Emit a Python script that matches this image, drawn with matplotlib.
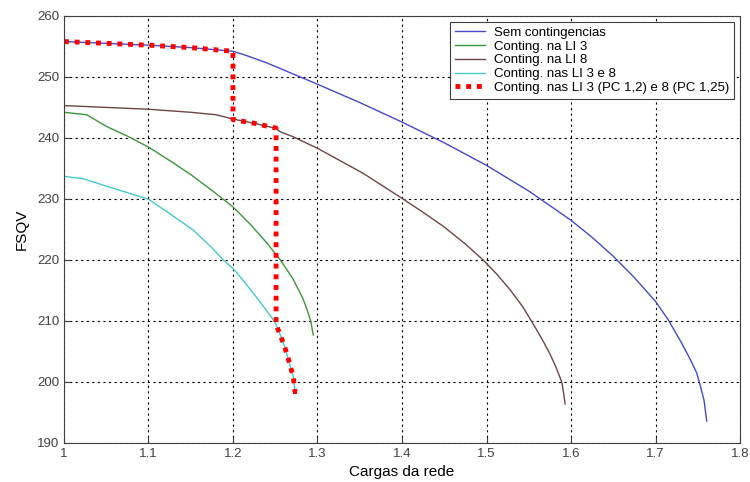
import matplotlib
matplotlib.use("Agg")
import matplotlib.pyplot as plt

plt.rcParams['font.family'] = ['Liberation Sans', 'DejaVu Sans']

# Sem contingencias
x_sem = [1.0, 1.05, 1.1, 1.15, 1.2, 1.214, 1.24, 1.2675, 1.3, 1.35, 1.4, 1.45, 1.5, 1.55, 1.6,
         1.625, 1.65, 1.675, 1.7, 1.715, 1.73, 1.74, 1.7487, 1.7518, 1.7574, 1.7606]
y_sem = [255.8, 255.5, 255.2, 254.8, 254.2, 253.6, 252.3, 250.7, 248.8, 245.8, 242.6, 239.2, 235.5, 231.3, 226.5,
         223.7, 220.6, 217.1, 213.2, 210.2, 206.6, 204.0, 201.5, 200.0, 197.0, 193.6]

# Conting. na LI 3
x_li3 = [1.0, 1.0, 1.027, 1.05, 1.075, 1.1, 1.125, 1.15, 1.175, 1.2, 1.22, 1.24, 1.256, 1.271, 1.283, 1.2875,
         1.292, 1.295]
y_li3 = [245.4, 244.2, 243.8, 241.9, 240.3, 238.5, 236.3, 234.0, 231.4, 228.7, 225.9, 222.8, 220.0, 216.9, 213.6,
         211.9, 210.0, 207.7]

# Conting. na LI 8
x_li8 = [1.0, 1.05, 1.1, 1.15, 1.18, 1.2, 1.225, 1.25, 1.256, 1.271, 1.3, 1.354, 1.4, 1.425, 1.449, 1.475,
         1.496, 1.512, 1.528, 1.543, 1.557, 1.567, 1.575, 1.582, 1.589, 1.591, 1.593]
y_li8 = [245.3, 245.0, 244.7, 244.2, 243.8, 243.1, 242.4, 241.6, 241.0, 240.2, 238.3, 234.2, 230.1, 227.8, 225.5, 222.6,
         220.0, 217.7, 215.1, 212.3, 209.1, 206.7, 204.6, 202.5, 200.0, 198.4, 196.4]

# Conting. nas LI 3 e 8
x_li38 = [1.0, 1.0, 1.023, 1.05, 1.1, 1.125, 1.153, 1.175, 1.1885, 1.2, 1.21, 1.23, 1.2477, 1.251, 1.2568,
          1.2615, 1.266, 1.2714, 1.2734]
y_li38 = [235.5, 233.7, 233.3, 232.1, 229.95, 227.6, 224.9, 222.0, 220.0, 218.6, 217.0, 213.5, 210.2, 209.4, 207.4,
          205.6, 203.5, 200.8, 198.4]

# Conting. nas LI 3 (PC 1,2) e 8 (PC 1,25)
x_pc = [1.0, 1.05, 1.1, 1.15, 1.2, 1.2, 1.225, 1.251, 1.251, 1.2568, 1.2615, 1.266, 1.2714, 1.2734]
y_pc = [255.8, 255.5, 255.2, 254.8, 254.2, 243.0, 242.4, 241.6, 209.4, 207.4, 205.6, 203.5, 200.8, 198.4]

labels = ['Sem contingencias', 'Conting. na LI 3', 'Conting. na LI 8',
          'Conting. nas LI 3 e 8', 'Conting. nas LI 3 (PC 1,2) e 8 (PC 1,25)']

fig = plt.figure(figsize=(7.5, 4.82), dpi=100)
ax = fig.add_axes([0.0853, 0.081, 0.9014, 0.886])

ax.plot(x_sem, y_sem, color='#4848c8', lw=1.0, label=labels[0])
ax.plot(x_li3, y_li3, color='#3c963c', lw=1.0, label=labels[1])
ax.plot(x_li8, y_li8, color='#6e4646', lw=1.0, label=labels[2])
ax.plot(x_li38, y_li38, color='#48c8c8', lw=1.0, label=labels[3])
ax.plot(x_pc, y_pc, color='#ff0000', lw=3.5, linestyle=(0, (1, 1.2)), label=labels[4])
ax.plot(x_pc[-1:], y_pc[-1:], 's', color='#ff0000', ms=3.5, mew=0)

ax.set_xlim(1, 1.8)
ax.set_ylim(190, 260)
ax.set_xticks([1, 1.1, 1.2, 1.3, 1.4, 1.5, 1.6, 1.7, 1.8])
ax.set_xticklabels(['1', '1.1', '1.2', '1.3', '1.4', '1.5', '1.6', '1.7', '1.8'])
ax.set_yticks([190, 200, 210, 220, 230, 240, 250, 260])
ax.grid(True, color='black', linestyle=(0, (2, 3)), linewidth=0.8)
ax.tick_params(direction='in', labelsize=9.5, labelcolor='#404040', length=4, color='#404040')
for s in ax.spines.values():
    s.set_color('#404040')
ax.set_xlabel('Cargas da rede', fontsize=11, labelpad=4)
ax.set_ylabel('FSQV', fontsize=11, labelpad=6)

leg = ax.legend(loc='upper right', fontsize=9.5, frameon=True, fancybox=False,
                edgecolor='#404040', framealpha=1, borderpad=0.35, labelspacing=0.12,
                handlelength=2.3, handletextpad=0.68, borderaxespad=0.45)
leg.get_frame().set_linewidth(0.8)

fig.savefig('out.png', dpi=100)
